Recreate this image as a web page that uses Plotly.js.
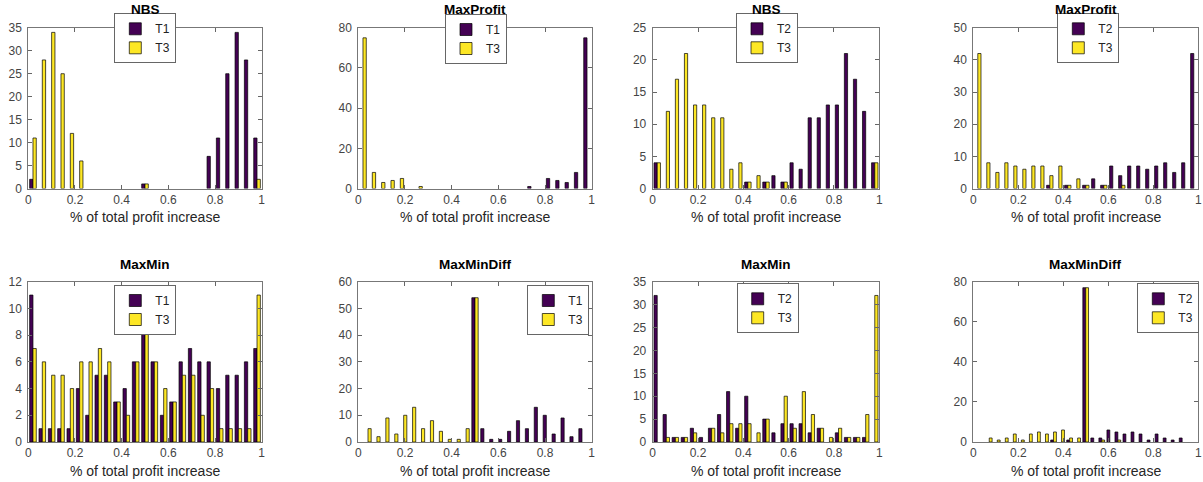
<!DOCTYPE html>
<html><head><meta charset="utf-8">
<script src="https://cdn.plot.ly/plotly-3.0.1.min.js"></script>
<style>html,body{margin:0;padding:0;background:#fff}#chart{width:1203px;height:482px}</style>
</head><body><div id="chart"></div>
<script>
// ---------- data (histogram counts, 25 bins each) ----------
const nBins = 25;
const binRangeStd = [0, 1];
const binRangeMMD1 = [0.0225, 0.9775];
const binRangeMMD2 = [0.053, 0.946];
const tickVals = [0, 0.2, 0.4, 0.6, 0.8, 1];
const tickText = ['0', '0.2', '0.4', '0.6', '0.8', '1'];
const xTitleText = '% of total profit increase';
const panelTitles = ['NBS', 'MaxProfit', 'NBS', 'MaxProfit', 'MaxMin', 'MaxMinDiff', 'MaxMin', 'MaxMinDiff'];
const seriesNames = [['T1', 'T3'], ['T1', 'T3'], ['T2', 'T3'], ['T2', 'T3'], ['T1', 'T3'], ['T1', 'T3'], ['T2', 'T3'], ['T2', 'T3']];

const nbsT1   = [2,0,0,0,0,0,0,0,0,0,0,0,1,0,0,0,0,0,0,7,11,25,34,28,11];
const nbsT3a  = [11,28,34,25,12,6,0,0,0,0,0,0,1,0,0,0,0,0,0,0,0,0,0,0,2];
const mpT1    = [0,0,0,0,0,0,0,0,0,0,0,0,0,0,0,0,0,0,1,0,5,4,3,8,75];
const mpT3a   = [75,8,3,4,5,0,1,0,0,0,0,0,0,0,0,0,0,0,0,0,0,0,0,0,0];
const nbsT2   = [4,0,0,0,0,0,0,0,0,0,1,0,1,2,1,4,3,11,11,13,13,21,17,12,4];
const nbsT3b  = [4,12,17,21,13,13,11,11,3,4,1,2,1,0,1,0,0,0,0,0,0,0,0,0,4];
const mpT2    = [0,0,0,0,0,0,0,0,1,0,1,0,1,3,1,7,4,7,7,6,7,8,5,8,42];
const mpT3b   = [42,8,5,8,7,6,7,7,4,7,1,3,1,0,1,0,1,0,0,0,0,0,0,0,0];
const mmT1    = [11,1,1,1,1,4,2,5,5,3,4,6,9,6,2,3,6,7,6,6,4,5,5,6,7];
const mmT3a   = [7,6,5,5,4,6,6,7,6,3,2,6,9,6,4,3,5,5,2,4,1,1,1,1,11];
const mmdT1   = [0,0,0,0,0,0,0,0,0,0,0,0,54,5,1,1,4,8,5,13,10,3,9,2,5];
const mmdT3a  = [5,2,9,3,10,13,5,8,4,1,1,5,54,0,0,0,0,0,0,0,0,0,0,0,0];
const mmT2    = [32,6,1,1,3,1,3,6,11,3,10,0,5,2,4,4,4,2,3,0,2,1,1,1,0];
const mmT3b   = [0,1,1,1,2,0,3,2,4,4,4,2,5,0,10,3,11,6,3,1,3,1,1,6,32];
const mmdT2   = [0,0,0,0,0,0,0,0,1,0,1,0,77,2,2,6,5,4,5,4,1,4,2,1,2];
const mmdT3b  = [2,1,2,4,1,4,5,4,5,6,2,2,77,0,1,0,1,0,0,0,0,0,0,0,0];

const panelSeries = [[nbsT1, nbsT3a], [mpT1, mpT3a], [nbsT2, nbsT3b], [mpT2, mpT3b],
                     [mmT1, mmT3a], [mmdT1, mmdT3a], [mmT2, mmT3b], [mmdT2, mmdT3b]];
const panelBinRanges = [binRangeStd, binRangeStd, binRangeStd, binRangeStd,
                        binRangeStd, binRangeMMD1, binRangeStd, binRangeMMD2];
const panelYMax = [35, 80, 25, 50, 12, 60, 35, 80];
const panelYStep = [5, 20, 5, 10, 2, 10, 5, 20];

// ---------- layout geometry (pixels) ----------
const W = 1203, H = 482;
const colX = [[28.3, 261.7], [358.3, 591.7], [652.7, 879.3], [973.3, 1198.3]];
const rowY = [[27.8, 188.5], [281.7, 442]];
const legendPx = [[114.3, 13.3], [445, 14], [736, 13.3], [1057.3, 13.3],
                  [114.3, 285], [527.3, 285], [736.7, 283.3], [1137.3, 283.3]];
const titleYPx = [9.3, 264];
const xTitleYPx = [217.5, 471];
const colors = ['#440154', '#fde725'];
const FONT = 'Liberation Sans, Arial, Helvetica, sans-serif';
const px2x = p => p / W;
const px2y = p => 1 - p / H;

function binCenters(range) {
  const w = (range[1] - range[0]) / nBins;
  const c = [];
  for (let i = 0; i < nBins; i++) c.push(range[0] + (i + 0.5) * w);
  return c;
}

const traces = [];
const layout = {
  width: W, height: H,
  margin: {l: 0, r: 0, t: 0, b: 0},
  paper_bgcolor: '#fff', plot_bgcolor: '#fff',
  barmode: 'group', bargap: 0.29, bargroupgap: 0,
  font: {family: FONT, color: '#333'},
  annotations: []
};

for (let k = 0; k < 8; k++) {
  const col = k % 4, row = Math.floor(k / 4);
  const sfx = k === 0 ? '' : String(k + 1);
  const xa = 'xaxis' + sfx, ya = 'yaxis' + sfx;
  const legId = 'legend' + sfx;
  const centers = binCenters(panelBinRanges[k]);
  for (let s = 0; s < 2; s++) {
    const vals = panelSeries[k][s];
    traces.push({
      type: 'bar', x: centers, y: vals.map(v => v > 0 ? v : null), name: seriesNames[k][s],
      xaxis: 'x' + sfx, yaxis: 'y' + sfx, legend: legId,
      marker: {color: colors[s], line: {color: '#000', width: 0.7}},
      hoverinfo: 'x+y+name'
    });
  }
  const xDom = [px2x(colX[col][0]), px2x(colX[col][1])];
  const yDom = [px2y(rowY[row][1]), px2y(rowY[row][0])];
  const axCommon = {
    ticks: 'inside', ticklen: 4, tickwidth: 1, tickcolor: '#666',
    showline: true, linecolor: '#777', linewidth: 1, mirror: 'ticks',
    showgrid: false, zeroline: false,
    tickfont: {family: FONT, size: 12, color: '#444'}
  };
  layout[xa] = Object.assign({}, axCommon, {
    domain: xDom, range: [0, 1], tickmode: 'array', tickvals: tickVals, ticktext: tickText,
    anchor: 'y' + sfx
  });
  layout[ya] = Object.assign({}, axCommon, {
    domain: yDom, range: [0, panelYMax[k]], tick0: 0, dtick: panelYStep[k],
    anchor: 'x' + sfx, ticklabelstandoff: 3
  });
  layout[legId] = {
    x: px2x(legendPx[k][0]), y: px2y(legendPx[k][1]), xanchor: 'left', yanchor: 'top',
    bgcolor: '#fff', bordercolor: '#666', borderwidth: 1,
    font: {family: FONT, size: 12, color: '#222'}, itemwidth: 30
  };
  const cx = (colX[col][0] + colX[col][1]) / 2;
  layout.annotations.push({
    xref: 'paper', yref: 'paper', x: px2x(cx), y: px2y(titleYPx[row]),
    xanchor: 'center', yanchor: 'middle', showarrow: false,
    text: '<b>' + panelTitles[k] + '</b>', font: {family: FONT, size: 13.5, color: '#000'}
  });
  layout.annotations.push({
    xref: 'paper', yref: 'paper', x: px2x(cx), y: px2y(xTitleYPx[row]),
    xanchor: 'center', yanchor: 'middle', showarrow: false,
    text: xTitleText, font: {family: FONT, size: 14, color: '#262626'}
  });
}

Plotly.newPlot('chart', traces, layout, {displayModeBar: false, staticPlot: true});
</script>
</body></html>
